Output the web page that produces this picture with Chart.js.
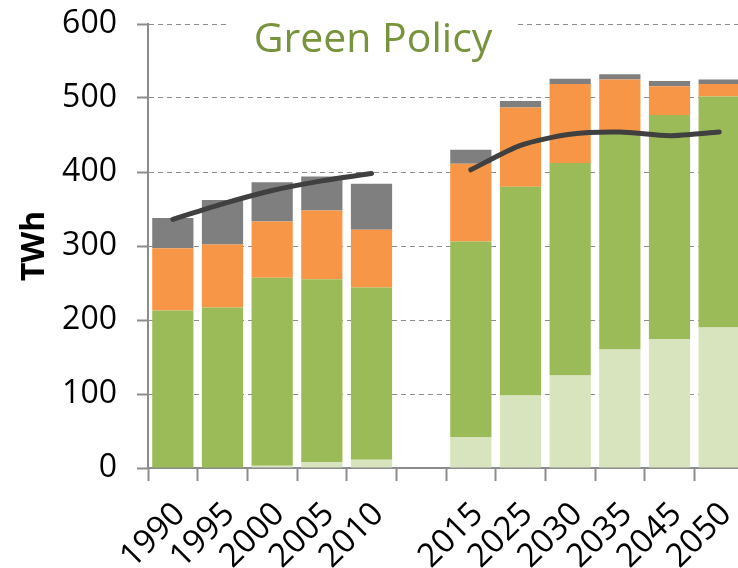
<!DOCTYPE html>
<html><head><meta charset="utf-8">
<script src="https://cdn.jsdelivr.net/npm/chart.js@4/dist/chart.umd.min.js"></script>
<style>
html,body{margin:0;padding:0;overflow:hidden;background:#fff;width:738px;height:568px;}
#wrap{position:absolute;left:0;top:0;width:744px;height:568px;}
</style></head>
<body>
<div id="wrap"><canvas id="c" width="744" height="568"></canvas></div>
<script>
const categories = ['1990','1995','2000','2005','2010','','2015','2025','2030','2035','2045','2050'];
const lightGreen = [0, 0, 3, 8, 11, null, 42, 98, 125, 160, 174, 190];
const green      = [213, 217, 254, 247, 233, null, 264, 282, 287, 293, 303, 312];
const orange     = [84, 85, 76, 93, 78, null, 105, 107, 107, 72, 39, 17];
const grey       = [41, 60, 53, 46, 62, null, 19, 9, 7, 7, 7, 6];
const demand     = [336, 357, 375, 388, 398, null, 403, 436, 451, 454, 449, 454];
const yTicks = [0, 100, 200, 300, 400, 500, 600];
const chartTitle = 'Green Policy';

const FONT = "'Open Sans', 'Noto Sans', sans-serif";

const titlePlugin = {
  id: 'innerTitle',
  afterDatasetsDraw(chart) {
    const ctx = chart.ctx;
    ctx.save();
    ctx.fillStyle = '#ffffff';
    ctx.fillRect(228, 0, 289, 62);
    ctx.fillStyle = '#77933C';
    ctx.font = "41px " + FONT;
    ctx.textAlign = 'center';
    ctx.textBaseline = 'alphabetic';
    ctx.fillText(chartTitle, 373, 52);
    ctx.restore();
  }
};

function barDs(label, data, color) {
  return { type: 'bar', label, data, backgroundColor: color, order: 1,
    categoryPercentage: 1, barPercentage: 0.83, stack: 'bars' };
}

new Chart(document.getElementById('c'), {
  data: {
    labels: categories,
    datasets: [
      barDs('Light', lightGreen, '#D7E4BD'),
      barDs('Green', green, '#9BBB59'),
      barDs('Orange', orange, '#F79646'),
      barDs('Grey', grey, '#7F7F7F'),
      { type: 'line', label: 'Demand', data: demand, borderColor: '#404040',
        borderWidth: 5, pointRadius: 0, tension: 0.25, spanGaps: false,
        borderCapStyle: 'round', borderJoinStyle: 'round', order: 0, stack: 'line' }
    ]
  },
  options: {
    responsive: false,
    animation: false,
    layout: { padding: { top: 24, left: 0, right: 0, bottom: 0 } },
    plugins: { legend: { display: false }, tooltip: { enabled: false }, title: { display: false } },
    scales: {
      x: {
        stacked: true,
        grid: { offset: true, drawOnChartArea: false, drawTicks: true, tickLength: 13, tickColor: '#8c8c8c', tickWidth: 2 },
        border: { display: true, color: '#8c8c8c', width: 2 },
        ticks: { color: '#000', font: { family: FONT, size: 33 }, minRotation: 45, maxRotation: 45, padding: 14, labelOffset: 7, autoSkip: false },
        afterFit(s) { s.height = 100; s.paddingLeft = 0; s.paddingRight = 0; }
      },
      y: {
        stacked: true,
        min: 0, max: 600,
        afterBuildTicks(s) { s.ticks = yTicks.map(v => ({ value: v })); },
        grid: { color: '#8c8c8c', lineWidth: 1, drawTicks: true, tickLength: 11, tickColor: '#8c8c8c', tickWidth: 2, tickBorderDash: [] },
        border: { display: true, color: '#8c8c8c', width: 2, dash: [5, 4] },
        ticks: { color: '#000', font: { family: FONT, size: 32 }, padding: 20 },
        title: { display: true, text: 'TWh', color: '#000', font: { family: FONT, size: 32, weight: 'bold' }, padding: { top: 16, bottom: 0 } },
        afterFit(s) { s.width = 148; s.paddingTop = 0; s.paddingBottom = 0; }
      }
    }
  },
  plugins: [titlePlugin]
});
</script>
</body></html>
